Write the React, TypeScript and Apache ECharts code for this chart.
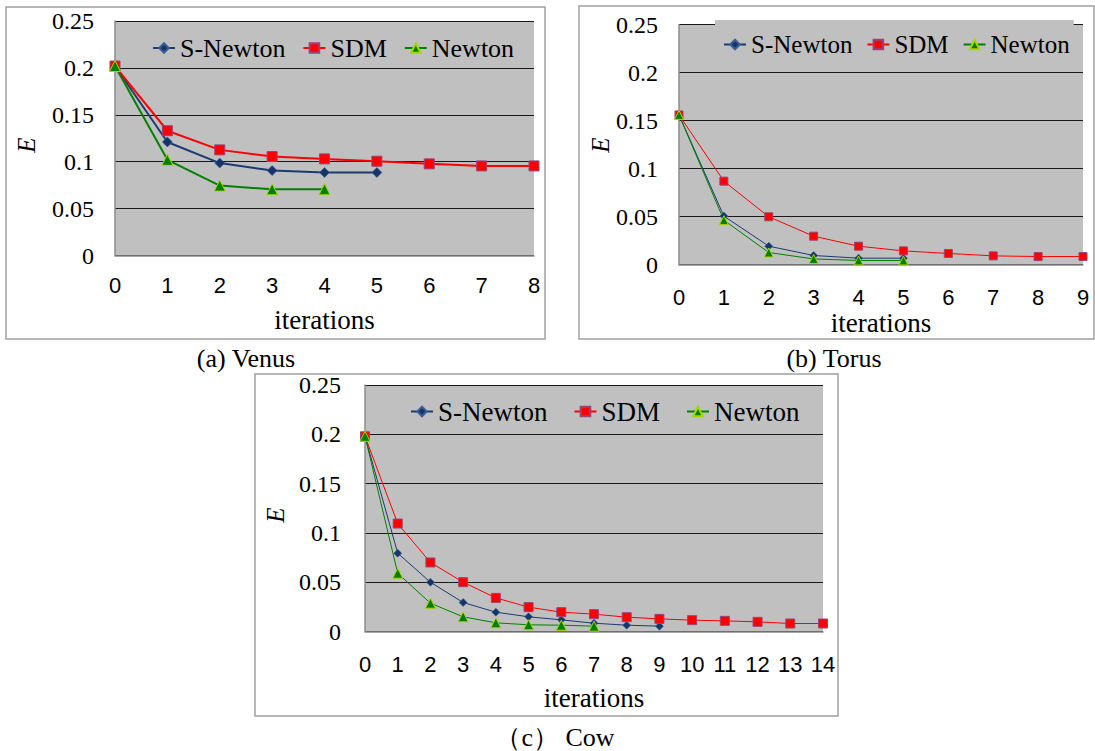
import React, { useEffect, useRef } from "react";
import * as echarts from "echarts";

// ---------- data ----------
const venusIterations = ["0", "1", "2", "3", "4", "5", "6", "7", "8"];
const venusSNewton = [0.202, 0.121, 0.0985, 0.0905, 0.0885, 0.0885];
const venusSDM = [0.202, 0.133, 0.1126, 0.1055, 0.103, 0.1005, 0.0977, 0.0955, 0.0955];
const venusNewton = [0.202, 0.102, 0.0745, 0.0706, 0.0706];

const torusIterations = ["0", "1", "2", "3", "4", "5", "6", "7", "8", "9"];
const torusSNewton = [0.156, 0.0506, 0.0193, 0.0096, 0.0068, 0.0068];
const torusSDM = [0.156, 0.087, 0.0499, 0.0297, 0.0193, 0.0144, 0.0117, 0.0092, 0.0085, 0.0085];
const torusNewton = [0.156, 0.0464, 0.0127, 0.006, 0.0044, 0.0044];

const cowIterations = ["0", "1", "2", "3", "4", "5", "6", "7", "8", "9", "10", "11", "12", "13", "14"];
const cowSNewton = [0.198, 0.0794, 0.05, 0.0294, 0.0196, 0.0149, 0.0118, 0.0084, 0.0064, 0.0054];
const cowSDM = [0.198, 0.1095, 0.07, 0.05, 0.0341, 0.0247, 0.0196, 0.0176, 0.0145, 0.0128, 0.0115, 0.0108, 0.0098, 0.0081, 0.0081];
const cowNewton = [0.198, 0.0591, 0.0287, 0.0149, 0.0088, 0.0068, 0.0064, 0.0054];

const seriesNames = ["S-Newton", "SDM", "Newton"];
const yMin = 0;
const yMax = 0.25;
const yStep = 0.05;

// ---------- styles ----------
const SERIF = "serif";
const SANS = "sans-serif";

type Panel = {
  grid: { left: number; top: number; width: number; height: number };
  cats: string[];
  sn: number[];
  sdm: number[];
  nt: number[];
  lineWidth: number;
  sizes: [number, number, number];
  legend: any;
  legendFont: number;
  xLabelMargin: number;
  nameGap: number;
  yLabelMargin: number;
  box: { x: number; y: number; w: number; h: number };
  caption: { text: string; x: number; y: number };
  eLabel: { x: number; y: number };
};

function buildOption(p: Panel) {
  return {
    animation: false,
    grid: {
      ...p.grid,
      show: true,
      backgroundColor: "#c0c0c0",
      borderWidth: 0,
      containLabel: false,
    },
    legend: {
      data: seriesNames,
      orient: "horizontal",
      padding: 0,
      itemWidth: 22,
      itemHeight: 12,
      textStyle: { fontFamily: SERIF, fontSize: p.legendFont, color: "#000" },
      ...p.legend,
    },
    xAxis: {
      type: "category",
      boundaryGap: false,
      data: p.cats,
      axisLine: { show: true, lineStyle: { color: "#8c8c8c", width: 1.5 } },
      axisTick: { show: false },
      axisLabel: {
        interval: 0,
        fontFamily: SANS,
        fontSize: 22,
        color: "#000",
        margin: p.xLabelMargin,
      },
      splitLine: { show: false },
      name: "iterations",
      nameLocation: "middle",
      nameGap: p.nameGap,
      nameTextStyle: { fontFamily: SERIF, fontSize: 27, color: "#000" },
    },
    yAxis: {
      type: "value",
      min: yMin,
      max: yMax,
      interval: yStep,
      axisLine: { show: true, lineStyle: { color: "#8c8c8c", width: 1.5 } },
      axisTick: { show: false },
      axisLabel: {
        fontFamily: SERIF,
        fontSize: 24,
        color: "#000",
        margin: p.yLabelMargin,
      },
      splitLine: { show: true, lineStyle: { color: "#1a1a1a", width: 1 } },
    },
    series: [
      {
        name: seriesNames[0],
        type: "line",
        data: p.sn,
        symbol: "diamond",
        symbolSize: p.sizes[0],
        clip: false,
        lineStyle: { color: "#1b3b6f", width: p.lineWidth },
        itemStyle: { color: "#163567", borderColor: "#3d5f99", borderWidth: 0.6 },
      },
      {
        name: seriesNames[1],
        type: "line",
        data: p.sdm,
        symbol: "rect",
        symbolSize: p.sizes[1],
        clip: false,
        lineStyle: { color: "#ff0000", width: p.lineWidth },
        itemStyle: { color: "#ff0000", borderColor: "#994477", borderWidth: 1 },
      },
      {
        name: seriesNames[2],
        type: "line",
        data: p.nt,
        symbol: "triangle",
        symbolSize: p.sizes[2],
        clip: false,
        lineStyle: { color: "#008000", width: p.lineWidth },
        itemStyle: { color: "#008000", borderColor: "#a6d600", borderWidth: 1 },
      },
    ],
    graphic: [
      {
        type: "rect",
        shape: { x: p.box.x, y: p.box.y, width: p.box.w, height: p.box.h },
        style: { fill: "none", stroke: "#a0a0a0", lineWidth: 1.5 },
        silent: true,
      },
      {
        type: "text",
        x: p.eLabel.x,
        y: p.eLabel.y,
        rotation: Math.PI / 2,
        style: {
          text: "E",
          fontFamily: SERIF,
          fontStyle: "italic",
          fontSize: 25,
          fill: "#000",
          align: "center",
          verticalAlign: "middle",
        },
      },
      {
        type: "text",
        x: p.caption.x,
        y: p.caption.y,
        style: {
          text: p.caption.text,
          fontFamily: SERIF,
          fontSize: 26,
          fill: "#000",
          align: "center",
          verticalAlign: "middle",
        },
      },
    ],
  };
}

const panels: Panel[] = [
  {
    grid: { left: 115, top: 21, width: 419, height: 234.5 },
    cats: venusIterations,
    sn: venusSNewton,
    sdm: venusSDM,
    nt: venusNewton,
    lineWidth: 2,
    sizes: [10, 10, 11],
    legend: { left: 152, top: 35, itemGap: 17 },
    legendFont: 26,
    xLabelMargin: 19,
    nameGap: 51,
    yLabelMargin: 21,
    box: { x: 6, y: 7, w: 539, h: 332 },
    caption: { text: "(a) Venus", x: 246, y: 358 },
    eLabel: { x: 26, y: 145 },
  },
  {
    grid: { left: 679, top: 24.7, width: 404, height: 240 },
    cats: torusIterations,
    sn: torusSNewton,
    sdm: torusSDM,
    nt: torusNewton,
    lineWidth: 1,
    sizes: [8, 8, 9],
    legend: {
      left: 715,
      top: 20,
      itemGap: 14,
      padding: [12, 4, 4, 8],
      backgroundColor: "#c0c0c0",
    },
    legendFont: 25,
    xLabelMargin: 22,
    nameGap: 45,
    yLabelMargin: 21,
    box: { x: 579, y: 6, w: 515, h: 333 },
    caption: { text: "(b) Torus", x: 834, y: 358 },
    eLabel: { x: 600, y: 145 },
  },
  {
    grid: { left: 365, top: 385, width: 458, height: 246.5 },
    cats: cowIterations,
    sn: cowSNewton,
    sdm: cowSDM,
    nt: cowNewton,
    lineWidth: 1,
    sizes: [8, 9, 10],
    legend: { left: 410, top: 398, itemGap: 26 },
    legendFont: 27,
    xLabelMargin: 22,
    nameGap: 53,
    yLabelMargin: 24,
    box: { x: 255, y: 374, w: 583, h: 342 },
    caption: { text: "（c） Cow", x: 555, y: 737 },
    eLabel: { x: 275, y: 515 },
  },
];

export default function App() {
  const r0 = useRef<HTMLDivElement>(null);
  const r1 = useRef<HTMLDivElement>(null);
  const r2 = useRef<HTMLDivElement>(null);

  useEffect(() => {
    const refs = [r0, r1, r2];
    const charts = refs.map((r, i) => {
      const c = echarts.init(r.current as HTMLDivElement, undefined, { renderer: "svg" });
      c.setOption(buildOption(panels[i]) as any);
      return c;
    });
    return () => charts.forEach((c) => c.dispose());
  }, []);

  const style: React.CSSProperties = {
    position: "absolute",
    left: 0,
    top: 0,
    width: 1095,
    height: 751,
  };

  return (
    <div style={{ position: "absolute", left: 0, top: 0, width: 1095, height: 751, background: "#fff" }}>
      <div ref={r0} style={style} />
      <div ref={r1} style={style} />
      <div ref={r2} style={style} />
    </div>
  );
}
